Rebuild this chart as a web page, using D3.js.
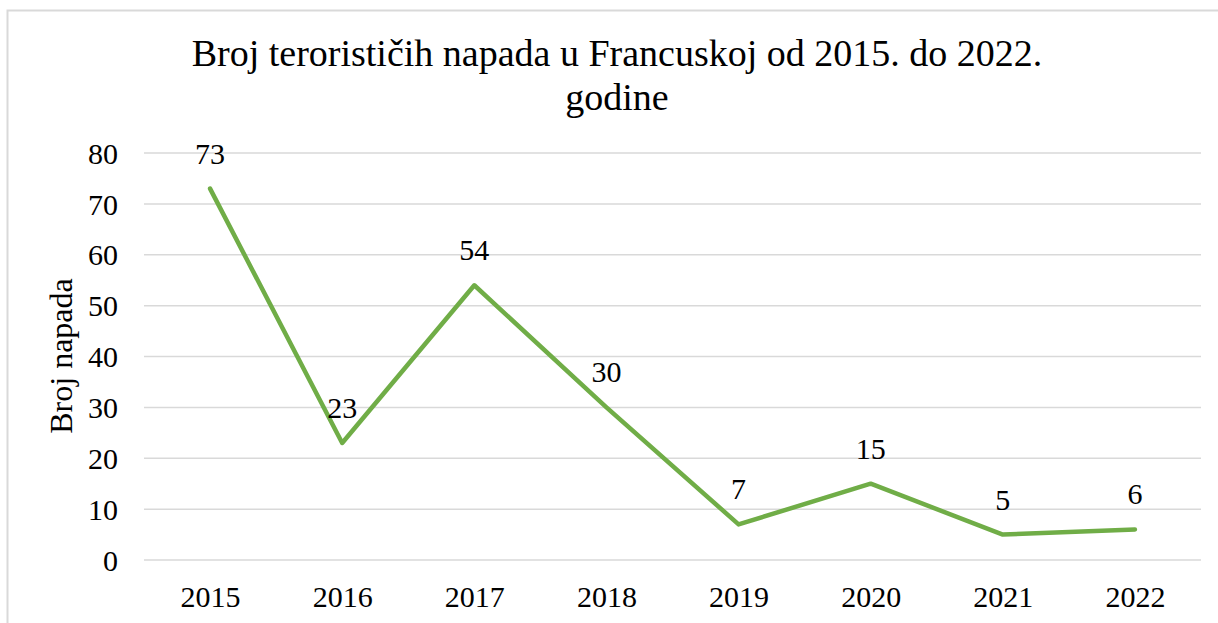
<!DOCTYPE html>
<html>
<head>
<meta charset="utf-8">
<script src="https://cdn.jsdelivr.net/npm/d3@7"></script>
<style>
  html, body { margin: 0; padding: 0; background: #fff; }
  svg { display: block; }
  text { font-family: "Liberation Serif", "Times New Roman", serif; fill: #000; }
</style>
</head>
<body>
<svg id="chart" width="1218" height="623"></svg>
<script>
const years = ["2015", "2016", "2017", "2018", "2019", "2020", "2021", "2022"];
const attacks = [73, 23, 54, 30, 7, 15, 5, 6];
const yTicks = [0, 10, 20, 30, 40, 50, 60, 70, 80];
const titleLines = ["Broj terorističih napada u Francuskoj od 2015. do 2022.", "godine"];
const yLabel = "Broj napada";

const svg = d3.select("#chart");
const m = { left: 144, right: 1201, top: 153, bottom: 560 };

svg.append("rect").attr("x", 7.5).attr("y", 10.5).attr("width", 1230).attr("height", 640)
  .attr("fill", "#fff").attr("stroke", "#d9d9d9").attr("stroke-width", 2);

const x = d3.scalePoint().domain(years).range([m.left, m.right]).padding(0.5);
const y = d3.scaleLinear().domain([0, 80]).range([m.bottom, m.top]);

// gridlines
svg.append("g").selectAll("line").data(yTicks).join("line")
  .attr("x1", m.left).attr("x2", m.right)
  .attr("y1", d => y(d)).attr("y2", d => y(d))
  .attr("stroke", "#d9d9d9").attr("stroke-width", 1.5);

// y axis
const yAxis = svg.append("g").attr("transform", `translate(${m.left},0)`)
  .call(d3.axisLeft(y).tickValues(yTicks).tickSize(0).tickPadding(26));
yAxis.select(".domain").remove();
yAxis.selectAll("text").attr("font-size", 30).attr("dy", "0.34em");

// x axis
const xAxis = svg.append("g").attr("transform", `translate(0,${m.bottom})`)
  .call(d3.axisBottom(x).tickSize(0).tickPadding(0));
xAxis.select(".domain").remove();
xAxis.selectAll("text").attr("font-size", 30).attr("dy", null).attr("y", 47);

// line
const line = d3.line().x((d, i) => x(years[i])).y(d => y(d));
svg.append("path").datum(attacks)
  .attr("d", line).attr("fill", "none")
  .attr("stroke", "#70ad47").attr("stroke-width", 4.5)
  .attr("stroke-linejoin", "round").attr("stroke-linecap", "round");

// data labels
svg.append("g").selectAll("text").data(attacks).join("text")
  .attr("x", (d, i) => x(years[i]))
  .attr("y", d => y(d) - 25)
  .attr("text-anchor", "middle").attr("font-size", 30)
  .text(d => d);

// title
svg.append("g").selectAll("text").data(titleLines).join("text")
  .attr("x", 617).attr("y", (d, i) => 66 + i * 44)
  .attr("text-anchor", "middle").attr("font-size", 38)
  .text(d => d);

// y label
svg.append("text")
  .attr("transform", `translate(72,356) rotate(-90)`)
  .attr("text-anchor", "middle").attr("font-size", 32)
  .text(yLabel);
</script>
</body>
</html>
